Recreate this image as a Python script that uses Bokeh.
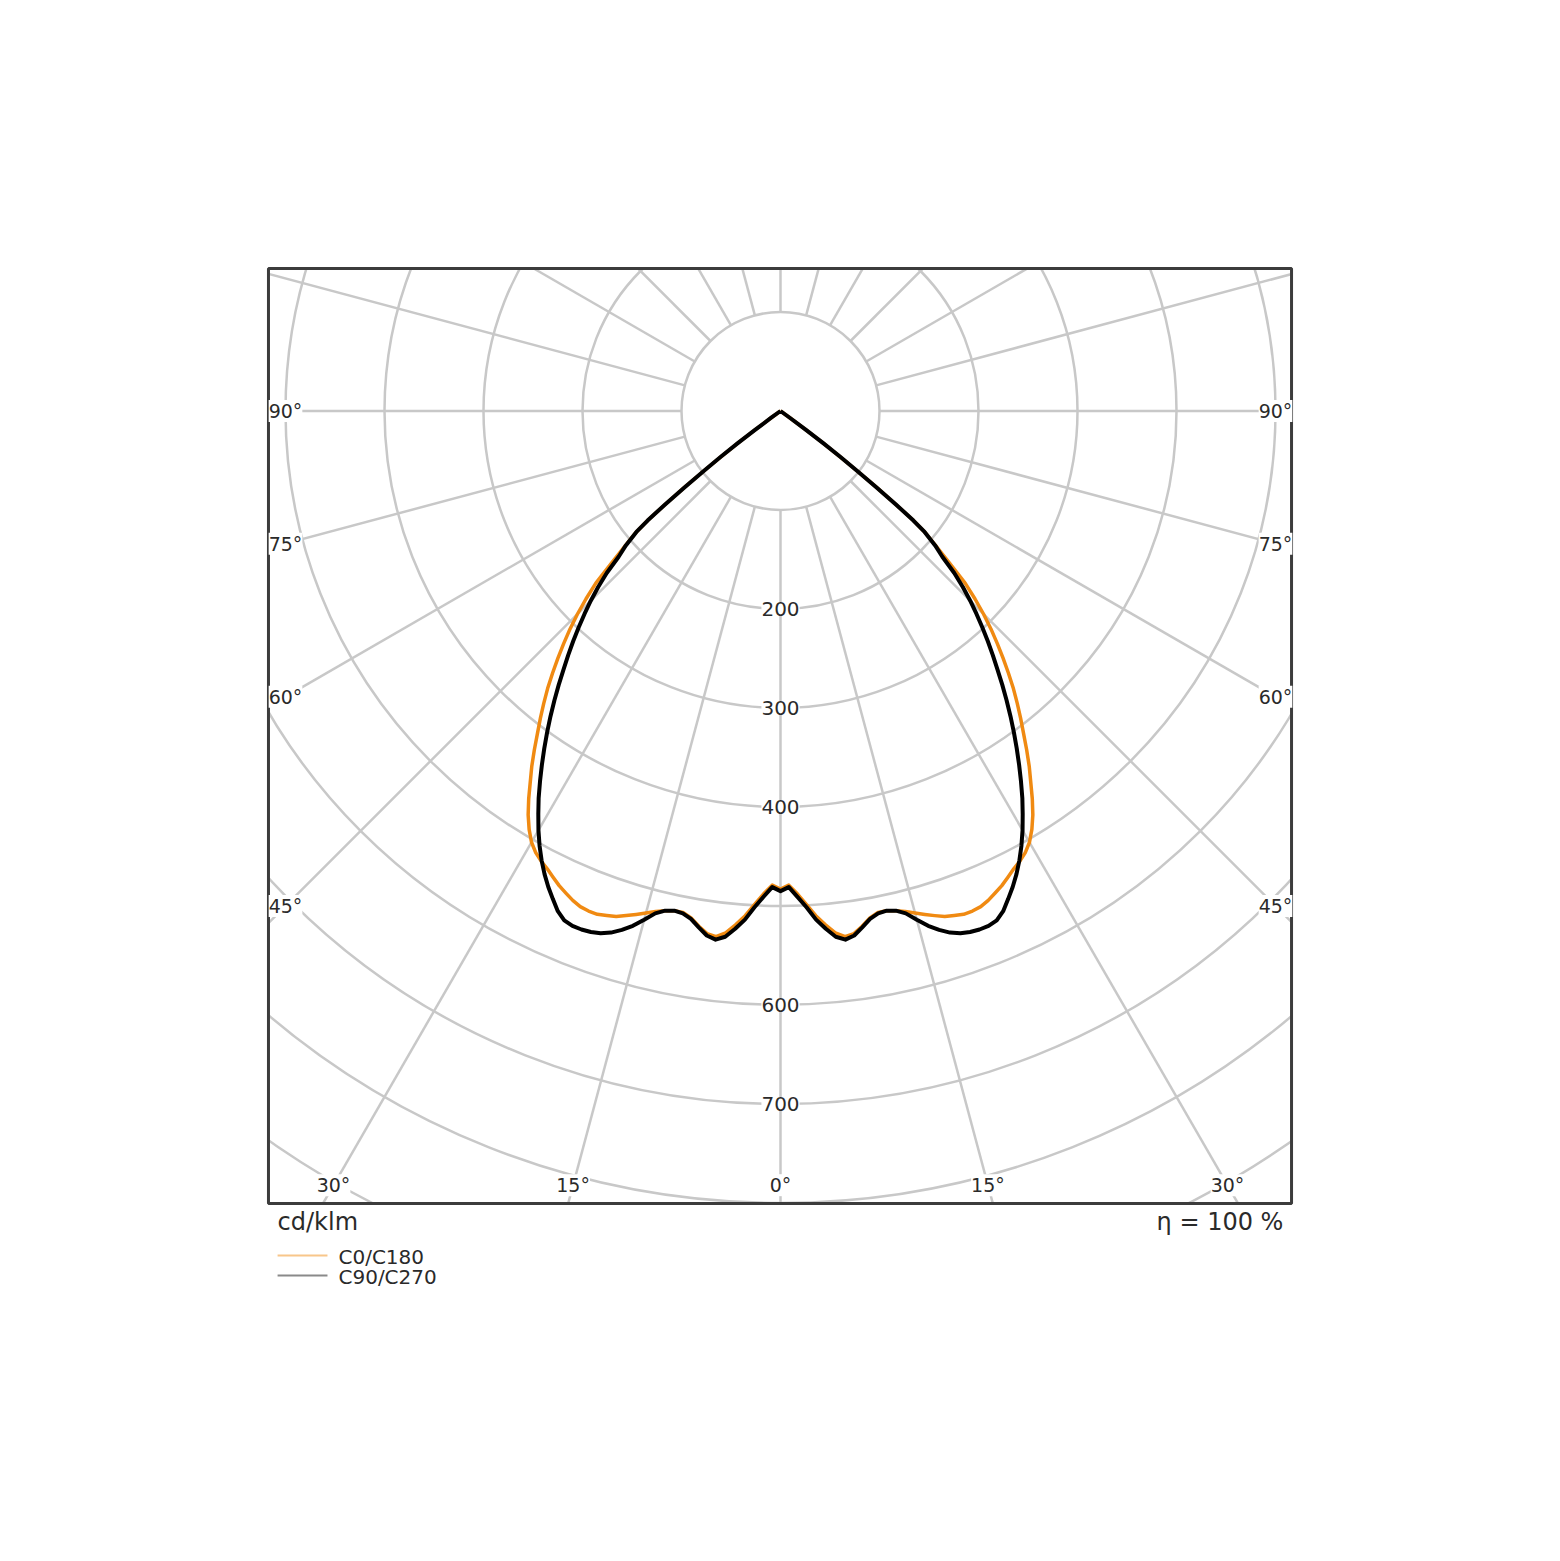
import numpy as np
from bokeh.plotting import figure
from bokeh.models import Range1d, ColumnDataSource, LabelSet
from bokeh.core.properties import value
from bokeh.embed import file_html
from bokeh.resources import INLINE

# ---------------- data (cd/klm) ----------------
gamma_deg = list(range(0, 50)) + [50, 50.5, 51, 51.5, 52, 52.5, 53, 53.5, 54, 55]
c0_c180 = [483, 479, 488, 499, 511, 521, 530, 535, 533, 527,
           520, 516, 516, 518, 521, 525, 529, 533, 537, 539,
           541, 541, 540, 537, 533, 529, 524, 519, 515, 510,
           503, 493, 481, 467, 452, 438, 423, 408, 394, 380,
           366, 351, 336, 321, 306, 290, 273, 255, 230, 209,
           190, 174, 150, 124, 98, 76, 54, 32, 12, 0]
c90_c270 = [485, 481, 491, 502, 515, 525, 534, 538, 535, 528,
            521, 517, 516, 518, 523, 532, 541, 548, 554, 558,
            560, 561, 561, 559, 553, 544, 535, 525, 514, 502,
            489, 475, 461, 446, 431, 416, 401, 386, 371, 356,
            341, 327, 313, 299, 285, 271, 256, 240, 220, 207,
            190, 174, 150, 124, 98, 76, 54, 32, 12, 0]

ring_values = [100, 200, 300, 400, 500, 600, 700, 800, 900, 1000]
ring_labels = [200, 300, 400, 600, 700]
spoke_angles = list(range(0, 360, 15))
side_angle_labels = [90, 75, 60, 45]
bottom_angle_labels = [0, 15, 30]
series_names = ["C0/C180", "C90/C270"]
unit_text = "cd/klm"
eta_text = "η = 100 %"

# ---------------- layout constants ----------------
K = 0.99                 # px per cd/klm
W, H = 1560, 1330
CX, CY = 780, 410.5      # polar centre in canvas px
BOX_L, BOX_R = -517.2, 516.2
BOX_T, BOX_B = 143.9, -800.5
FONT = "DejaVu Sans"
GRID = "#c8c8c8"
TXT = "#2a2a2a"
ORANGE = "#f08a12"

p = figure(width=W, height=H, output_backend="svg", toolbar_location=None,
           x_axis_type=None, y_axis_type=None, min_border=0,
           x_range=Range1d(-CX / K, (W - CX) / K),
           y_range=Range1d(-(H - CY) / K, CY / K))
p.outline_line_color = None
p.grid.visible = False
p.background_fill_color = "white"
p.border_fill_color = "white"

# grid circles
p.circle(x=[0] * len(ring_values), y=[0] * len(ring_values), radius=ring_values,
         fill_color=None, line_color=GRID, line_width=2.5)

# spokes
th = np.radians(spoke_angles)
r0, r1 = ring_values[0], 1000
p.segment(x0=r0 * np.sin(th), y0=-r0 * np.cos(th), x1=r1 * np.sin(th), y1=-r1 * np.cos(th),
          line_color=GRID, line_width=2.5)

# mask outside box (stacked to kill edge antialiasing)
XL, XR = -CX / K - 5, (W - CX) / K + 5
YB, YT = -(H - CY) / K - 5, CY / K + 5
for _ in range(5):
    p.quad(left=[XL, BOX_R, BOX_L, BOX_L], right=[BOX_L, XR, BOX_R, BOX_R],
           bottom=[YB, YB, BOX_T, YB], top=[YT, YT, YT, BOX_B],
           fill_color="white", line_color=None)


def curve(vals):
    g = np.radians(np.array(gamma_deg, dtype=float))
    v = np.array(vals, dtype=float)
    xr, yr = v * np.sin(g), -v * np.cos(g)
    x = np.concatenate([-xr[::-1], xr[1:]])
    y = np.concatenate([yr[::-1], yr[1:]])
    return x, y


xo, yo = curve(c0_c180)
p.line(xo, yo, line_color=ORANGE, line_width=3.5, line_join="round")
xb, yb = curve(c90_c270)
p.line(xb, yb, line_color="black", line_width=4, line_join="round")

# box outline
p.quad(left=[BOX_L], right=[BOX_R], bottom=[BOX_B], top=[BOX_T],
       fill_color=None, line_color="#3c3c3c", line_width=3)

# ring labels
ring_src = ColumnDataSource(dict(x=[0] * len(ring_labels), y=[-v for v in ring_labels],
                                 t=[str(v) for v in ring_labels]))
p.add_layout(LabelSet(x="x", y="y", text="t", source=ring_src, text_font=value(FONT),
                      text_font_size="20px", text_color=TXT, text_align="center",
                      text_baseline="middle", background_fill_color="white"))

# angle labels
ax, ay, at = [], [], []
for a in side_angle_labels:
    yy = 0.0 if a == 90 else -500 / np.tan(np.radians(a))
    for s in (-1, 1):
        ax.append(s * 500); ay.append(yy); at.append(f"{a}°")
for a in bottom_angle_labels:
    for s in ((1,) if a == 0 else (-1, 1)):
        ax.append(s * 782 * np.tan(np.radians(a))); ay.append(-782); at.append(f"{a}°")
ang_src = ColumnDataSource(dict(x=ax, y=ay, t=at))
p.add_layout(LabelSet(x="x", y="y", text="t", source=ang_src, text_font=value(FONT),
                      text_font_size="19px", text_color=TXT, text_align="center",
                      text_baseline="middle", background_fill_color="white"))

# texts below the box
p.text(x=[-508], y=[-818.7], text=[unit_text], text_font=value(FONT), text_font_size="24px",
       text_color=TXT, text_align="left", text_baseline="middle")
p.text(x=[508], y=[-818.7], text=[eta_text], text_font=value(FONT), text_font_size="24px",
       text_color=TXT, text_align="right", text_baseline="middle")

# legend
leg_y = [-853.0, -873.2]
leg_colors = ["#f8c68a", "#8a8a8a"]
for yy, col, name in zip(leg_y, leg_colors, series_names):
    p.line([-508, -457.6], [yy, yy], line_color=col, line_width=2)
    p.text(x=[-446.5], y=[yy - 1.5], text=[name], text_font=value(FONT), text_font_size="20px",
           text_color=TXT, text_align="left", text_baseline="middle")

open("out.html", "w").write(file_html(p, INLINE))
